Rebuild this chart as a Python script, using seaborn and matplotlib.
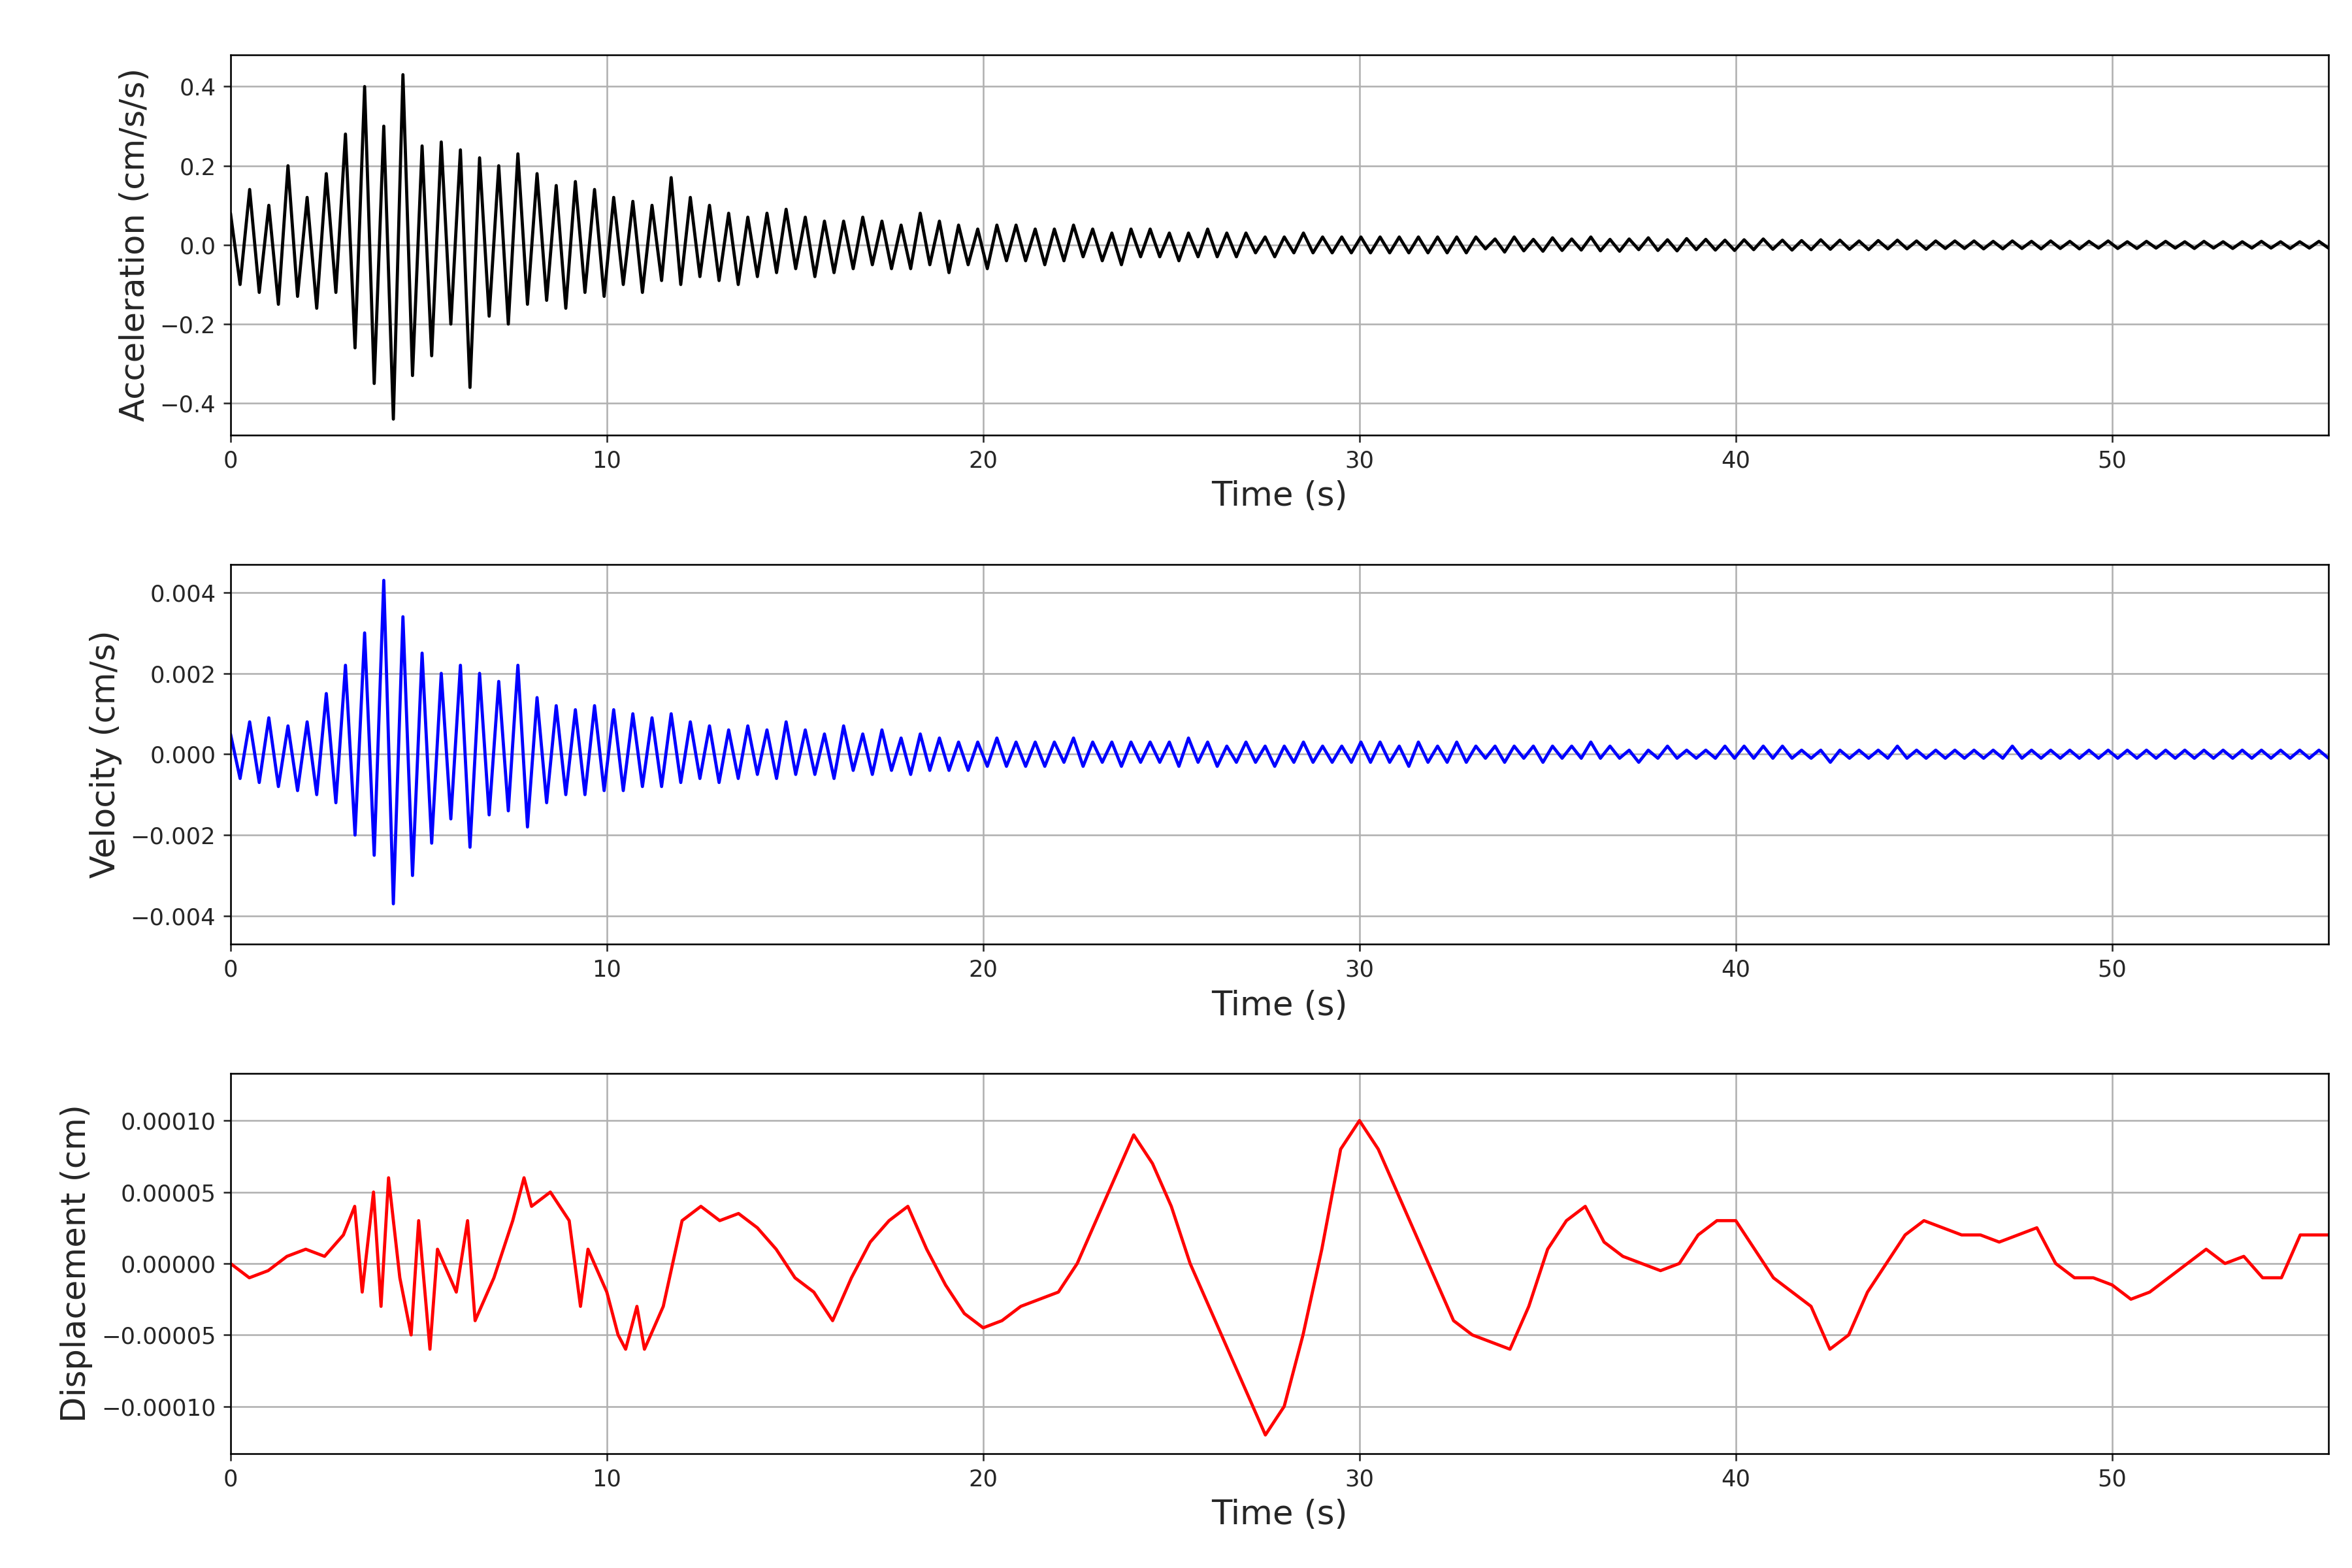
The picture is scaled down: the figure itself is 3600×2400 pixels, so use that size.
import numpy as np
import matplotlib
matplotlib.use("Agg")
import matplotlib.pyplot as plt
import matplotlib.ticker as mticker
import seaborn as sns

acc = [0.08,-0.10,0.14,-0.12,0.10,-0.15,0.20,-0.13,0.12,-0.16,0.18,-0.12,
0.28,-0.26,0.40,-0.35,0.30,-0.44,0.43,-0.33,0.25,-0.28,0.26,-0.20,
0.24,-0.36,0.22,-0.18,0.20,-0.20,0.23,-0.15,0.18,-0.14,0.15,-0.16,
0.16,-0.12,0.14,-0.13,0.12,-0.10,0.11,-0.12,0.10,-0.09,0.17,-0.10,
0.12,-0.08,0.10,-0.09,0.08,-0.10,0.07,-0.08,0.08,-0.07,0.09,-0.06,
0.07,-0.08,0.06,-0.07,0.06,-0.06,0.07,-0.05,0.06,-0.06,0.05,-0.06,
0.08,-0.05,0.06,-0.07,0.05,-0.05,0.04,-0.06,0.05,-0.04,0.05,-0.04,
0.04,-0.05,0.04,-0.04,0.05,-0.03,0.04,-0.04,0.03,-0.05,0.04,-0.03,
0.04,-0.03,0.03,-0.04,0.03,-0.03,0.04,-0.03,0.03,-0.03,0.03,-0.02,
0.02,-0.03,0.02,-0.02,0.03,-0.02,0.02,-0.02,0.02,-0.02,0.02,-0.02,
0.02,-0.02,0.02,-0.02,0.02,-0.02,0.02,-0.02,0.02,-0.02,0.02,-0.01,
0.015,-0.018,0.02,-0.015,0.014,-0.016,0.018,-0.014,0.015,-0.013,0.02,-0.015,
0.014,-0.016,0.015,-0.012,0.018,-0.014,0.013,-0.015,0.016,-0.012,0.014,-0.013,
0.012,-0.014,0.013,-0.012,0.015,-0.011,0.012,-0.013,0.011,-0.012,0.013,-0.011,
0.012,-0.011,0.010,-0.012,0.011,-0.010,0.012,-0.010,0.010,-0.011,0.010,-0.009,
0.010,-0.009,0.010,-0.010,0.009,-0.010,0.010,-0.009,0.009,-0.010,0.010,-0.009,
0.009,-0.010,0.009,-0.008,0.010,-0.009,0.008,-0.009,0.009,-0.008,0.009,-0.008,
0.008,-0.009,0.009,-0.008,0.008,-0.009,0.008,-0.008,0.009,-0.008,0.008,-0.009,
0.008,-0.008,0.009,-0.008]

vel = [0.0005,-0.0006,0.0008,-0.0007,0.0009,-0.0008,0.0007,-0.0009,0.0008,-0.0010,0.0015,-0.0012,
0.0022,-0.0020,0.0030,-0.0025,0.0043,-0.0037,0.0034,-0.0030,0.0025,-0.0022,0.0020,-0.0016,
0.0022,-0.0023,0.0020,-0.0015,0.0018,-0.0014,0.0022,-0.0018,0.0014,-0.0012,0.0012,-0.0010,
0.0011,-0.0010,0.0012,-0.0009,0.0011,-0.0009,0.0010,-0.0008,0.0009,-0.0008,0.0010,-0.0007,
0.0008,-0.0006,0.0007,-0.0007,0.0006,-0.0006,0.0007,-0.0005,0.0006,-0.0006,0.0008,-0.0005,
0.0006,-0.0005,0.0005,-0.0006,0.0007,-0.0004,0.0005,-0.0005,0.0006,-0.0004,0.0004,-0.0005,
0.0005,-0.0004,0.0004,-0.0004,0.0003,-0.0004,0.0003,-0.0003,0.0004,-0.0003,0.0003,-0.0003,
0.0003,-0.0003,0.0003,-0.0002,0.0004,-0.0003,0.0003,-0.0002,0.0003,-0.0003,0.0003,-0.0002,
0.0003,-0.0002,0.0003,-0.0003,0.0004,-0.0002,0.0003,-0.0003,0.0002,-0.0002,0.0003,-0.0002,
0.0002,-0.0003,0.0002,-0.0002,0.0003,-0.0002,0.0002,-0.0002,0.0002,-0.0002,0.0003,-0.0002,
0.0003,-0.0002,0.0002,-0.0003,0.0003,-0.0002,0.0002,-0.0002,0.0003,-0.0002,0.0002,-0.0001,
0.0002,-0.0002,0.0002,-0.0001,0.0002,-0.0002,0.0002,-0.0001,0.0002,-0.0001,0.0003,-0.0001,
0.0002,-0.0001,0.0001,-0.0002,0.0001,-0.0001,0.0002,-0.0001,0.0001,-0.0001,0.0001,-0.0001,
0.0002,-0.0001,0.0002,-0.0001,0.0002,-0.0001,0.0002,-0.0001,0.0001,-0.0001,0.0001,-0.0002,
0.0001,-0.0001,0.0001,-0.0001,0.0001,-0.0001,0.0002,-0.0001,0.0001,-0.0001,0.0001,-0.0001,
0.0001,-0.0001,0.0001,-0.0001,0.0001,-0.0001,0.0002,-0.0001,0.0001,-0.0001,0.0001,-0.0001,
0.0001,-0.0001,0.0001,-0.0001,0.0001,-0.0001,0.0001,-0.0001,0.0001,-0.0001,0.0001,-0.0001,
0.0001,-0.0001,0.0001,-0.0001,0.0001,-0.0001,0.0001,-0.0001,0.0001,-0.0001,0.0001,-0.0001,
0.0001,-0.0001,0.0001,-0.0001]

# displacement: (time s, value in 1e-5 cm)
disp_t = [0,0.5,1,1.5,2,2.5,3,3.3,3.5,3.8,4,4.2,4.5,4.8,5,5.3,5.5,6,6.3,6.5,7,7.5,7.8,8,8.5,9,9.3,9.5,10,
10.3,10.5,10.8,11,11.5,12,12.5,13,13.5,14,14.5,15,15.5,16,16.5,17,17.5,18,18.5,19,19.5,20,20.5,21,21.5,
22,22.5,23,23.5,24,24.5,25,25.5,26,26.5,27,27.5,28,28.5,29,29.5,30,30.5,31,31.5,32,32.5,33,33.5,34,34.5,
35,35.5,36,36.5,37,37.5,38,38.5,39,39.5,40,40.5,41,41.5,42,42.5,43,43.5,44,44.5,45,45.5,46,46.5,47,
47.5,48,48.5,49,49.5,50,50.5,51,51.5,52,52.5,53,53.5,54,54.5,55,55.5,55.75]
disp_v = [0,-1,-0.5,0.5,1,0.5,2,4,-2,5,-3,6,-1,-5,3,-6,1,-2,3,-4,-1,3,6,4,5,3,-3,1,-2,
-5,-6,-3,-6,-3,3,4,3,3.5,2.5,1,-1,-2,-4,-1,1.5,3,4,1,-1.5,-3.5,-4.5,-4,-3,-2.5,
-2,0,3,6,9,7,4,0,-3,-6,-9,-12,-10,-5,1,8,10,8,5,
2,-1,-4,-5,-5.5,-6,-3,1,3,4,1.5,0.5,0,-0.5,0,2,3,3,1,-1,-2,-3,-6,-5,-2,0,2,3,2.5,2,
2,1.5,2,2.5,0,-1,-1,-1.5,-2.5,-2,-1,0,1,0,0.5,-1,-1,2,2,2]
disp = [d * 1e-5 for d in disp_v]

t_acc = np.linspace(0, 55.75, len(acc))
t_vel = np.linspace(0, 55.75, len(vel))
t_disp = np.array(disp_t[:len(disp)])

sns.set_style("ticks")
plt.rcParams['font.family'] = ['DejaVu Sans']
plt.rcParams['axes.unicode_minus'] = True
fig, axes = plt.subplots(3, 1, figsize=(15.6, 10.4), dpi=230.77)
fig.subplots_adjust(left=0.098, right=0.99, top=0.965, bottom=0.073, hspace=0.34)

specs = [(t_acc, acc, 'black', 'Acceleration (cm/s/s)', (-0.48, 0.48)),
         (t_vel, vel, 'blue', 'Velocity (cm/s)', (-0.0047, 0.0047)),
         (t_disp, disp, 'red', 'Displacement (cm)', (-0.000133, 0.000133))]
for ax, (t, y, c, lab, yl) in zip(axes, specs):
    sns.lineplot(x=t, y=y, ax=ax, color=c, linewidth=1.5)
    ax.set_xlim(0, 55.75)
    ax.set_ylim(*yl)
    ax.grid(True, color='#b0b0b0', linewidth=0.8)
    ax.set_xlabel('Time (s)', fontsize=16)
    ax.set_ylabel(lab, fontsize=16)
    ax.tick_params(labelsize=11)
    for s in ax.spines.values():
        s.set_color('black')
axes[2].set_yticks([-0.0001, -0.00005, 0, 0.00005, 0.0001])
axes[2].yaxis.set_major_formatter(mticker.FuncFormatter(lambda v, p: ('%.5f' % v).replace('-', '\u2212')))
fig.savefig('out.png')
